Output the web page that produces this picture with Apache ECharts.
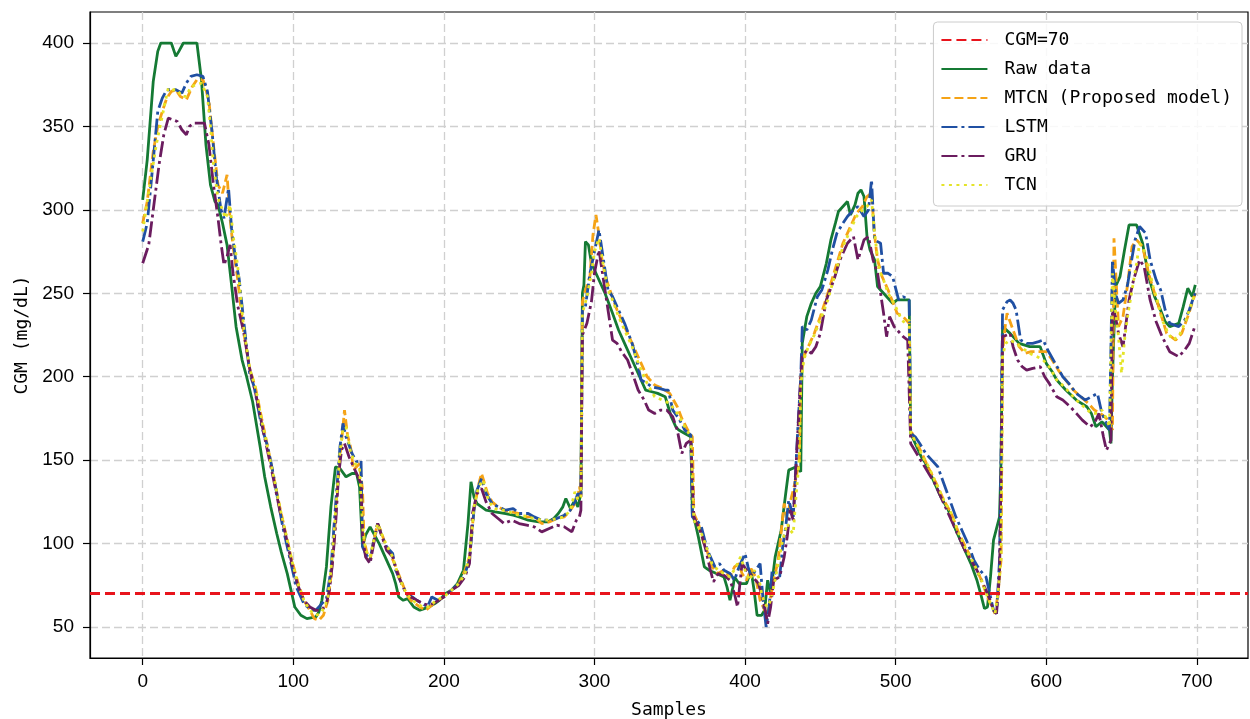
<!DOCTYPE html>
<html>
<head>
<meta charset="utf-8">
<title>CGM prediction</title>
<script src="https://cdn.jsdelivr.net/npm/echarts@6/dist/echarts.min.js"></script>
<style>
  html, body { margin: 0; padding: 0; background: #fff; }
  #chart { width: 1250px; height: 719px; }
</style>
</head>
<body>
<div id="chart"></div>
<script>
// [sample, mg/dL]
const threshold = 70
const xTicks = [0, 100, 200, 300, 400, 500, 600, 700]
const yTicks = [50, 100, 150, 200, 250, 300, 350, 400]

const raw = [[0,306],[3,330],[7,377],[10,395],[12,400],[19,400],[22,392],[24,395],[27,400],[36,400],[39,378],[42,339],[45,315],[48,305],[50,303],[53,292],[56,279],[59,255],[62,230],[66,210],[69,200],[73,185],[78,158],[81,140],[85,122],[89,106],[92,95],[96,82],[99,70],[101,62],[105,57],[109,55],[115,56],[117,59],[119,66],[122,86],[125,122],[128,146],[131,145],[135,140],[139,142],[142,142],[144,134],[146,98],[148,105],[151,110],[154,105],[157,100],[160,94],[163,88],[166,82],[168,76],[170,68],[173,66],[176,67],[180,62],[184,60],[187,61],[190,62],[194,64],[197,66],[201,70],[205,72],[209,76],[213,84],[216,112],[218,137],[220,128],[222,124],[225,122],[228,120],[234,119],[241,118],[246,117],[250,116],[256,114],[263,113],[269,113],[273,115],[276,118],[279,122],[281,127],[284,121],[287,126],[289,122],[291,130],[292,250],[293,255],[294,281],[296,279],[298,268],[301,262],[304,256],[307,250],[312,238],[316,228],[320,220],[325,210],[330,200],[334,192],[338,191],[342,190],[347,188],[351,176],[354,170],[356,168],[360,166],[364,164],[365,118],[367,112],[369,104],[371,95],[373,86],[376,84],[381,82],[386,80],[388,74],[390,66],[392,74],[393,80],[396,76],[401,76],[404,84],[406,72],[408,57],[411,57],[413,60],[415,78],[417,70],[420,92],[422,100],[424,108],[427,130],[429,144],[434,146],[437,143],[438,220],[441,236],[444,244],[447,250],[450,254],[454,268],[457,282],[460,292],[462,299],[465,302],[468,305],[470,297],[473,303],[475,310],[477,312],[479,308],[481,284],[483,276],[486,270],[488,254],[490,252],[492,250],[495,247],[498,244],[501,246],[504,246],[509,246],[510,166],[514,158],[517,152],[520,148],[525,138],[530,128],[535,120],[540,108],[545,98],[550,88],[554,78],[557,68],[559,61],[561,62],[563,80],[565,102],[569,116],[570,150],[571,230],[576,226],[582,220],[589,218],[596,218],[600,208],[604,203],[607,198],[613,192],[620,186],[627,182],[630,178],[633,170],[637,173],[642,168],[643,160],[644,200],[646,254],[649,260],[652,276],[655,291],[660,291],[664,280],[668,260],[672,248],[675,242],[679,233],[682,230],[688,232],[691,242],[694,253],[697,248],[699,255]]

const mtcn = [[0,292],[3,305],[7,335],[10,350],[13,359],[16,367],[19,371],[22,372],[25,368],[29,366],[33,374],[36,378],[40,378],[42,372],[44,365],[47,339],[50,315],[53,310],[56,321],[58,295],[60,278],[63,259],[67,227],[71,205],[75,193],[79,175],[83,158],[87,140],[91,122],[95,106],[99,90],[103,77],[107,66],[111,60],[114,55],[117,54],[120,57],[123,66],[125,80],[127,100],[129,130],[131,152],[133,170],[134,180],[136,165],[138,158],[140,144],[144,148],[146,132],[147,102],[149,94],[151,90],[153,100],[156,112],[158,108],[161,100],[164,95],[168,86],[172,77],[175,70],[178,66],[181,64],[184,62],[188,60],[192,63],[196,66],[200,68],[205,72],[210,76],[214,84],[217,92],[220,120],[223,135],[225,142],[229,130],[232,125],[236,122],[240,120],[245,119],[250,118],[255,116],[260,116],[265,112],[270,113],[275,115],[280,116],[284,120],[287,124],[289,128],[290,134],[291,130],[292,245],[294,252],[297,260],[299,285],[301,297],[303,285],[305,270],[308,258],[311,250],[315,240],[320,230],[325,220],[330,210],[335,200],[340,195],[345,193],[350,190],[355,182],[358,175],[362,168],[365,164],[366,118],[369,112],[372,102],[375,95],[378,86],[382,82],[386,84],[390,80],[393,86],[396,88],[398,82],[401,78],[404,85],[407,80],[410,66],[413,60],[415,58],[417,68],[419,78],[422,90],[426,124],[428,115],[430,125],[432,132],[434,140],[436,150],[437,200],[439,212],[442,218],[446,226],[450,236],[455,250],[460,265],[465,280],[470,290],[474,298],[478,302],[481,308],[484,310],[486,285],[488,270],[491,260],[495,252],[498,245],[501,238],[505,236],[509,232],[510,168],[513,162],[517,155],[522,145],[527,136],[532,126],[537,118],[542,106],[547,97],[552,88],[557,78],[561,68],[564,62],[566,58],[568,70],[570,90],[571,215],[573,232],[574,238],[578,228],[582,218],[586,214],[590,215],[595,215],[600,215],[604,210],[608,204],[613,198],[618,192],[623,188],[628,184],[632,180],[636,178],[640,175],[643,170],[644,168],[645,283],[648,230],[651,236],[654,255],[657,278],[660,282],[664,278],[668,262],[672,250],[676,238],[680,226],[686,222],[690,226],[694,236],[699,250]]

const lstm = [[0,281],[3,292],[6,320],[10,359],[13,367],[16,372],[22,372],[26,370],[29,376],[32,380],[36,381],[40,380],[43,371],[46,347],[49,319],[52,300],[54,295],[57,313],[59,289],[62,268],[64,259],[67,234],[71,202],[74,194],[79,170],[83,158],[86,145],[89,130],[93,110],[98,90],[102,74],[107,64],[112,60],[115,60],[119,64],[122,67],[125,84],[127,110],[129,134],[131,158],[133,172],[135,164],[139,154],[142,149],[145,150],[146,98],[148,94],[151,90],[153,100],[156,112],[159,104],[162,98],[166,94],[168,84],[171,78],[175,70],[179,68],[182,66],[186,64],[189,62],[192,68],[196,66],[200,68],[205,72],[210,76],[214,82],[217,90],[220,120],[222,132],[225,139],[228,130],[232,124],[236,122],[241,120],[246,121],[250,118],[256,118],[260,116],[265,114],[270,114],[275,115],[280,117],[284,120],[287,125],[289,130],[291,128],[292,240],[294,242],[297,262],[300,275],[303,288],[306,270],[309,252],[312,248],[316,240],[320,232],[325,220],[328,210],[331,198],[335,196],[338,194],[343,193],[347,192],[349,192],[352,180],[356,175],[360,168],[364,165],[365,116],[368,114],[371,110],[375,96],[380,86],[383,88],[386,84],[390,82],[393,78],[396,86],[400,94],[402,86],[404,80],[407,84],[410,88],[412,66],[414,50],[416,62],[418,84],[421,82],[423,80],[425,98],[427,110],[429,126],[432,116],[435,168],[437,200],[438,230],[441,228],[444,234],[448,248],[451,252],[455,264],[458,276],[461,286],[465,292],[468,296],[472,300],[475,302],[479,296],[482,300],[484,318],[486,282],[490,280],[492,262],[495,262],[498,260],[502,246],[505,248],[509,246],[510,166],[513,164],[516,160],[520,154],[524,150],[528,146],[532,136],[536,126],[540,116],[544,108],[548,100],[552,90],[556,84],[560,80],[563,68],[565,60],[567,58],[569,90],[570,150],[571,240],[574,245],[576,246],[578,244],[580,240],[583,222],[587,220],[591,220],[595,221],[598,222],[601,216],[606,208],[611,200],[615,196],[620,190],[626,186],[630,188],[634,190],[637,178],[640,172],[642,168],[644,270],[646,250],[648,244],[651,246],[654,255],[656,266],[659,282],[662,290],[666,286],[669,270],[673,258],[676,252],[679,240],[682,232],[688,230],[692,234],[695,240],[698,248],[699,250]]

const gru = [[0,268],[4,279],[8,307],[11,328],[14,345],[17,355],[20,354],[23,353],[26,348],[29,345],[31,350],[34,352],[38,352],[41,352],[44,339],[47,315],[50,295],[52,280],[54,267],[56,272],[58,279],[60,262],[63,243],[67,227],[71,205],[75,190],[79,172],[83,155],[87,138],[91,120],[95,105],[99,88],[103,75],[107,66],[111,62],[115,60],[119,60],[122,64],[124,72],[126,88],[128,110],[130,140],[132,156],[134,160],[137,152],[140,146],[143,140],[145,136],[146,104],[148,92],[151,88],[153,98],[156,112],[159,104],[162,96],[166,92],[170,80],[174,72],[178,68],[182,66],[186,64],[190,63],[195,65],[200,68],[205,72],[210,75],[214,80],[217,88],[219,118],[222,130],[225,133],[228,125],[232,118],[236,115],[240,112],[245,114],[250,112],[255,111],[260,110],[265,107],[270,109],[275,111],[280,110],[285,107],[288,114],[290,116],[291,120],[292,225],[295,232],[298,245],[300,262],[303,276],[306,258],[309,240],[312,222],[315,220],[318,215],[322,210],[326,200],[329,192],[333,186],[336,180],[340,178],[344,180],[348,180],[352,176],[355,168],[358,154],[361,160],[364,162],[366,116],[368,112],[371,106],[374,96],[377,84],[379,77],[382,82],[386,81],[390,78],[393,70],[395,62],[398,88],[401,84],[405,80],[409,76],[413,62],[415,52],[417,62],[419,78],[423,80],[426,92],[428,104],[430,120],[432,114],[435,166],[437,200],[438,212],[441,216],[444,214],[447,218],[450,226],[454,246],[459,258],[463,270],[468,280],[472,284],[475,270],[479,282],[482,284],[485,270],[488,262],[490,250],[492,238],[494,224],[496,236],[499,230],[501,228],[505,224],[508,222],[510,160],[514,154],[518,148],[522,142],[526,136],[530,128],[534,120],[538,112],[542,104],[546,96],[550,90],[554,84],[558,76],[562,68],[565,60],[567,58],[569,82],[570,140],[571,224],[574,225],[576,226],[578,218],[581,210],[584,206],[587,204],[591,205],[596,206],[599,200],[602,196],[607,188],[611,186],[616,182],[620,178],[624,174],[629,170],[632,172],[635,178],[638,164],[640,156],[643,162],[644,240],[646,236],[648,226],[651,218],[653,232],[655,246],[658,258],[662,270],[665,266],[669,246],[673,233],[677,224],[682,215],[688,212],[692,216],[695,220],[699,231]]

const tcn = [[0,287],[3,305],[6,322],[9,339],[12,352],[15,365],[17,373],[20,372],[23,372],[26,368],[29,368],[32,374],[36,375],[39,376],[41,372],[43,368],[45,350],[47,327],[50,307],[53,300],[55,295],[58,303],[60,285],[63,267],[67,230],[71,205],[75,193],[79,174],[83,157],[87,140],[91,122],[95,106],[99,90],[103,76],[107,66],[111,60],[115,57],[118,58],[121,62],[123,68],[125,84],[127,106],[129,130],[131,155],[133,168],[135,170],[138,155],[141,148],[144,145],[146,110],[148,96],[151,92],[153,100],[156,112],[159,105],[162,99],[166,92],[170,80],[174,72],[178,67],[182,64],[186,62],[190,62],[195,66],[200,68],[205,72],[210,76],[214,82],[217,92],[220,122],[223,134],[226,138],[229,128],[232,122],[236,120],[241,120],[246,118],[250,117],[256,116],[260,115],[265,114],[270,114],[275,115],[280,116],[284,120],[287,131],[289,126],[291,128],[292,238],[295,248],[298,262],[300,275],[303,283],[306,266],[309,252],[312,246],[316,236],[320,228],[325,218],[330,206],[335,196],[340,188],[345,186],[350,184],[355,178],[360,170],[364,164],[366,114],[369,110],[372,104],[375,96],[378,88],[382,84],[386,82],[390,80],[394,86],[397,92],[400,84],[403,78],[406,84],[409,80],[411,70],[413,64],[415,62],[417,66],[419,74],[422,88],[425,102],[428,112],[430,108],[432,106],[434,130],[436,150],[437,195],[439,210],[442,218],[446,225],[450,234],[455,246],[460,262],[465,278],[470,288],[474,296],[478,300],[481,302],[484,306],[486,286],[489,264],[492,258],[495,250],[499,244],[503,236],[506,232],[509,234],[510,166],[514,160],[518,152],[522,146],[527,136],[532,126],[537,118],[542,106],[547,96],[552,88],[557,78],[561,68],[564,62],[566,58],[568,70],[570,92],[571,212],[573,220],[576,222],[580,220],[583,218],[589,214],[594,212],[598,210],[602,206],[607,198],[612,194],[616,190],[620,186],[625,182],[630,178],[634,178],[637,180],[640,175],[642,170],[644,262],[646,240],[648,224],[650,202],[652,222],[654,236],[657,252],[660,268],[662,280],[666,274],[671,254],[674,245],[677,234],[681,226],[684,222],[688,224],[692,232],[695,240],[698,248],[699,246]]

const monoFont = '"DejaVu Sans Mono", "Liberation Mono", monospace'
const tickFont = '"Liberation Sans", Arial, sans-serif'

function lineSeries(name, data, color, dash) {
  return {
    name: name,
    type: 'line',
    data: data,
    symbol: 'none',
    smooth: false,
    lineStyle: { color: color, width: 2.8, type: dash },
    itemStyle: { color: color },
    emphasis: { disabled: true }
  }
}

let myChart = echarts.init(document.getElementById('chart'))
myChart.setOption({
  animation: false,
  backgroundColor: '#fff',
  grid: {
    left: 90,
    right: 2,
    top: 12,
    bottom: 61,
    outerBoundsMode: 'none',
    containLabel: false,
    show: true,
    borderColor: '#000',
    borderWidth: 1.2
  },
  legend: {
    orient: 'vertical',
    right: 8,
    top: 22,
    padding: [9, 10, 12, 7],
    itemGap: 11,
    itemWidth: 46,
    itemHeight: 14,
    backgroundColor: 'rgba(255,255,255,0.85)',
    borderColor: '#cccccc',
    borderWidth: 1,
    borderRadius: 4,
    itemStyle: { opacity: 0 },
    textStyle: {
      fontFamily: monoFont,
      fontSize: 18,
      lineHeight: 18,
      color: '#000',
      padding: [0, 0, 0, 12]
    },
    data: ['CGM=70', 'Raw data', 'MTCN (Proposed model)', 'LSTM', 'GRU', 'TCN']
  },
  xAxis: {
    type: 'value',
    min: -35,
    max: 734,
    splitNumber: 8,
    name: 'Samples',
    nameLocation: 'middle',
    nameGap: 43,
    nameTextStyle: { fontFamily: monoFont, fontSize: 18, color: '#000' },
    axisLine: { show: true, onZero: false, lineStyle: { color: '#000', width: 1.2 } },
    axisTick: { show: true, length: 7, lineStyle: { color: '#000', width: 1.2 }, customValues: xTicks },
    axisLabel: { fontFamily: tickFont, fontSize: 19, color: '#000', margin: 14, customValues: xTicks },
    splitLine: { show: true, lineStyle: { color: '#d0d0d0', width: 1.3, type: [8, 4] } }
  },
  yAxis: {
    type: 'value',
    min: 31.4,
    max: 418.6,
    splitNumber: 8,
    name: 'CGM (mg/dL)',
    nameLocation: 'middle',
    nameGap: 56,
    nameRotate: 90,
    nameTextStyle: { fontFamily: monoFont, fontSize: 18, color: '#000' },
    axisLine: { show: true, onZero: false, lineStyle: { color: '#000', width: 1.2 } },
    axisTick: { show: true, length: 7, lineStyle: { color: '#000', width: 1.2 }, customValues: yTicks },
    axisLabel: { fontFamily: tickFont, fontSize: 19, color: '#000', margin: 16, customValues: yTicks },
    splitLine: { show: true, lineStyle: { color: '#d0d0d0', width: 1.3, type: [8, 4] } }
  },
  series: [
    {
      name: 'CGM=70',
      type: 'line',
      data: [],
      symbol: 'none',
      lineStyle: { color: '#e8141c', width: 2.8, type: [10, 5] },
      itemStyle: { color: '#e8141c' },
      markLine: {
        silent: true,
        symbol: 'none',
        label: { show: false },
        lineStyle: { color: '#e8141c', width: 2.8, type: [10, 5] },
        data: [{ yAxis: threshold }]
      }
    },
    lineSeries('Raw data', raw, '#157a34', 'solid'),
    lineSeries('MTCN (Proposed model)', mtcn, '#f5a316', [9, 4]),
    lineSeries('LSTM', lstm, '#2050a3', [16, 4, 3, 4]),
    lineSeries('GRU', gru, '#6b1c5f', [16, 4, 3, 4]),
    lineSeries('TCN', tcn, '#e4e428', [3, 4.5])
  ]
})
</script>
</body>
</html>
